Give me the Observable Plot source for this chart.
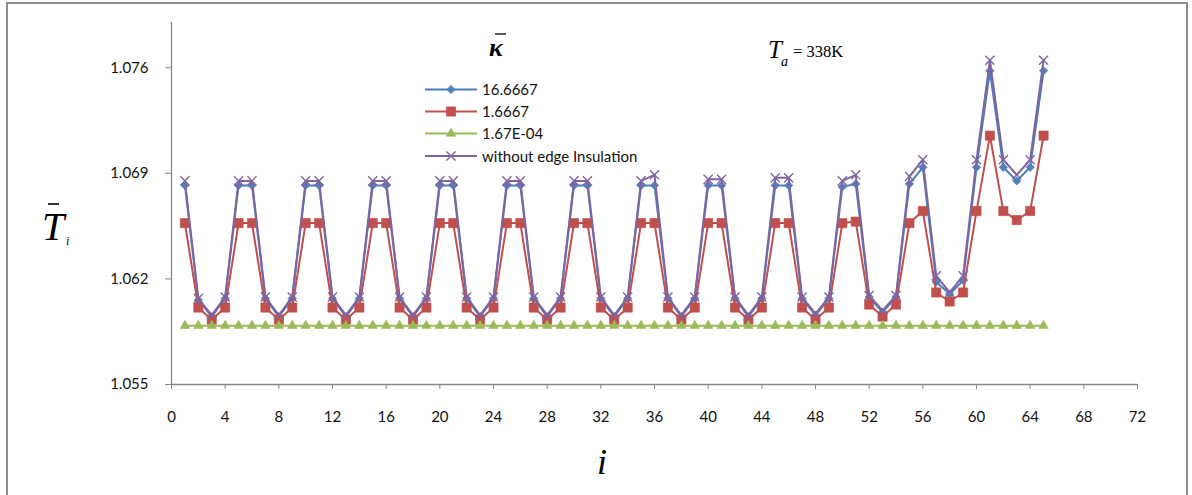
<!DOCTYPE html>
<html><head><meta charset="utf-8">
<script src="https://cdn.jsdelivr.net/npm/d3@7"></script>
<script src="https://cdn.jsdelivr.net/npm/@observablehq/plot@0.6"></script>
<style>
body{margin:0;background:#fff;}
#wrap{position:relative;width:1192px;height:495px;overflow:hidden;background:#fff;}
#chart{position:absolute;left:0;top:0;}
#frame{position:absolute;left:6px;top:2px;width:1182px;height:520px;border:2px solid #8e8e8e;box-sizing:border-box;pointer-events:none;}
#ann{position:absolute;left:0;top:0;pointer-events:none;}
</style></head><body>
<div id="wrap"><div id="chart"></div><svg id="ann" width="1192" height="495"></svg><div id="frame"></div></div>
<script>
// ---- data ----
const idx = [1,2,3,4,5,6,7,8,9,10,11,12,13,14,15,16,17,18,19,20,21,22,23,24,25,26,27,28,29,30,
  31,32,33,34,35,36,37,38,39,40,41,42,43,44,45,46,47,48,49,50,51,52,53,54,55,56,57,58,59,60,
  61,62,63,64,65];
const kappa16 = [
  1.0682,1.0606,1.0595,1.0607,1.0682,
  1.0682,1.0607,1.0595,1.0607,1.0682,
  1.0682,1.0607,1.0595,1.0607,1.0682,
  1.0682,1.0607,1.0595,1.0607,1.0682,
  1.0682,1.0607,1.0595,1.0607,1.0682,
  1.0682,1.0607,1.0595,1.0607,1.0682,
  1.0682,1.0607,1.0595,1.0607,1.0682,
  1.0682,1.0607,1.0595,1.0607,1.0682,
  1.0682,1.0607,1.0595,1.0607,1.0682,
  1.0682,1.0607,1.0596,1.0607,1.0681,
  1.0683,1.0608,1.0598,1.0608,1.0683,
  1.0694,1.0618,1.0610,1.0619,1.0694,
  1.0758,1.0694,1.0685,1.0694,1.0758];
const kappa1667 = [
  1.0657,1.0601,1.0593,1.0601,1.0657,
  1.0657,1.0601,1.0593,1.0601,1.0657,
  1.0657,1.0601,1.0593,1.0601,1.0657,
  1.0657,1.0601,1.0593,1.0601,1.0657,
  1.0657,1.0601,1.0593,1.0601,1.0657,
  1.0657,1.0601,1.0593,1.0601,1.0657,
  1.0657,1.0601,1.0593,1.0601,1.0657,
  1.0657,1.0601,1.0593,1.0601,1.0657,
  1.0657,1.0601,1.0593,1.0601,1.0657,
  1.0657,1.0601,1.0593,1.0601,1.0657,
  1.0658,1.0603,1.0595,1.0603,1.0657,
  1.0665,1.0611,1.0605,1.0611,1.0665,
  1.0715,1.0665,1.0659,1.0665,1.0715];
const kappaE04 = [
  1.0589,1.0589,1.0589,1.0589,1.0589,
  1.0589,1.0589,1.0589,1.0589,1.0589,
  1.0589,1.0589,1.0589,1.0589,1.0589,
  1.0589,1.0589,1.0589,1.0589,1.0589,
  1.0589,1.0589,1.0589,1.0589,1.0589,
  1.0589,1.0589,1.0589,1.0589,1.0589,
  1.0589,1.0589,1.0589,1.0589,1.0589,
  1.0589,1.0589,1.0589,1.0589,1.0589,
  1.0589,1.0589,1.0589,1.0589,1.0589,
  1.0589,1.0589,1.0589,1.0589,1.0589,
  1.0589,1.0589,1.0589,1.0589,1.0589,
  1.0589,1.0589,1.0589,1.0589,1.0589,
  1.0589,1.0589,1.0589,1.0589,1.0589];
const noInsulation = [
  1.0685,1.0607,1.0596,1.0608,1.0685,
  1.0685,1.0608,1.0596,1.0608,1.0685,
  1.0685,1.0608,1.0596,1.0608,1.0685,
  1.0685,1.0608,1.0596,1.0608,1.0685,
  1.0685,1.0608,1.0596,1.0608,1.0685,
  1.0685,1.0608,1.0596,1.0608,1.0685,
  1.0685,1.0608,1.0596,1.0608,1.0685,
  1.0689,1.0608,1.0596,1.0608,1.0686,
  1.0686,1.0608,1.0596,1.0608,1.0687,
  1.0687,1.0608,1.0597,1.0608,1.0685,
  1.0689,1.0609,1.0599,1.0609,1.0688,
  1.0699,1.0622,1.0611,1.0622,1.0699,
  1.0765,1.0699,1.0689,1.0699,1.0765];
const seriesNames = ["16.6667", "1.6667", "1.67E-04", "without edge Insulation"];
const xTicks = [0,4,8,12,16,20,24,28,32,36,40,44,48,52,56,60,64,68,72];
const yTicks = [1.055,1.062,1.069,1.076];

// ---- styles ----
const series = [
  {name: seriesNames[0], values: kappa16, line: "#4a7ebb", symbol: d3.symbolDiamond2, r: 3.7, fill: "#4f81bd", stroke: "#4a7ebb", sw: 0.8},
  {name: seriesNames[1], values: kappa1667, line: "#c0504d", symbol: d3.symbolSquare, r: 5.2, fill: "#c0504d", stroke: "#be4b48", sw: 0.6},
  {name: seriesNames[2], values: kappaE04, line: "#9bbb59", symbol: d3.symbolTriangle, r: 3.5, fill: "#9bbb59", stroke: "#98b954", sw: 0.6},
  {name: seriesNames[3], values: noInsulation, line: "#8064a2", symbol: d3.symbolTimes, r: 4.2, fill: "none", stroke: "#8064a2", sw: 1.4}
];

const marks = [
  Plot.ruleY([1.055], {stroke: "#868686", strokeWidth: 1.3}),
  Plot.ruleX([0], {stroke: "#868686", strokeWidth: 1.3}),
  Plot.axisX({ticks: xTicks, tickSize: 5, tickPadding: 22, stroke: "#868686", fill: "#111", label: null, fontSize: 15}),
  Plot.axisY({ticks: yTicks, tickFormat: d3.format(".3f"), tickSize: 6, tickPadding: 17, stroke: "#868686", fill: "#111", label: null, fontSize: 15})
];
for (const s of series) {
  const d = s.values.map((v, k) => ({i: idx[k], v}));
  marks.push(Plot.line(d, {x: "i", y: "v", stroke: s.line, strokeWidth: 2}));
  marks.push(Plot.dot(d, {x: "i", y: "v", symbol: s.symbol, r: s.r, fill: s.fill, stroke: s.stroke, strokeWidth: s.sw}));
}

const chart = Plot.plot({
  width: 1192, height: 495,
  marginLeft: 171, marginRight: 55, marginTop: 22, marginBottom: 111,
  x: {domain: [0, 72]},
  y: {domain: [1.055, 1.079]},
  style: {fontFamily: "Lato, 'Open Sans', sans-serif", fontSize: "15px", background: "transparent", color: "#111"},
  marks
});
document.getElementById("chart").appendChild(chart);

// ---- annotations & legend ----
const ann = d3.select("#ann");
const serif = "'Liberation Serif', 'Times New Roman', serif";
// y title: T-bar with subscript i
ann.append("text").attr("x", 42).attr("y", 240).attr("font-family", serif).attr("font-style", "italic").attr("font-size", 40).text("T");
ann.append("line").attr("x1", 48).attr("x2", 59).attr("y1", 204).attr("y2", 204).attr("stroke", "#000").attr("stroke-width", 1.6);
ann.append("text").attr("x", 66).attr("y", 245).attr("font-family", serif).attr("font-style", "italic").attr("font-size", 12).text("i");
// x title
ann.append("text").attr("x", 602).attr("y", 474).attr("text-anchor", "middle").attr("font-family", serif).attr("font-style", "italic").attr("font-size", 36).text("i");
// kappa bar
ann.append("text").attr("x", 489).attr("y", 56).attr("font-family", serif).attr("font-style", "italic").attr("font-weight", "bold").attr("font-size", 26).text("κ");
ann.append("line").attr("x1", 495).attr("x2", 506).attr("y1", 34).attr("y2", 34).attr("stroke", "#000").attr("stroke-width", 1.3);
// T_a = 338K
ann.append("text").attr("x", 768).attr("y", 58).attr("font-family", serif).attr("font-style", "italic").attr("font-size", 25).text("T");
ann.append("text").attr("x", 781).attr("y", 66).attr("font-family", serif).attr("font-style", "italic").attr("font-size", 14).text("a");
ann.append("text").attr("x", 793).attr("y", 57).attr("font-family", serif).attr("font-size", 16.5).text("= 338K");

// legend
const rowY = [89.5, 111.5, 133.5, 156];
series.forEach((s, k) => {
  const g = ann.append("g").attr("transform", `translate(0,${rowY[k]})`);
  g.append("line").attr("x1", 425).attr("x2", 477).attr("y1", 0).attr("y2", 0).attr("stroke", s.line).attr("stroke-width", 2);
  g.append("path").attr("transform", "translate(451,0)")
    .attr("d", d3.symbol(s.symbol, s.r * s.r * Math.PI)())
    .attr("fill", s.fill).attr("stroke", s.stroke).attr("stroke-width", s.sw);
  g.append("text").attr("x", 482).attr("y", 5.5).attr("font-family", "Lato, 'Open Sans', sans-serif").attr("font-size", 15).attr("fill", "#111").text(s.name);
});
</script>
</body></html>
